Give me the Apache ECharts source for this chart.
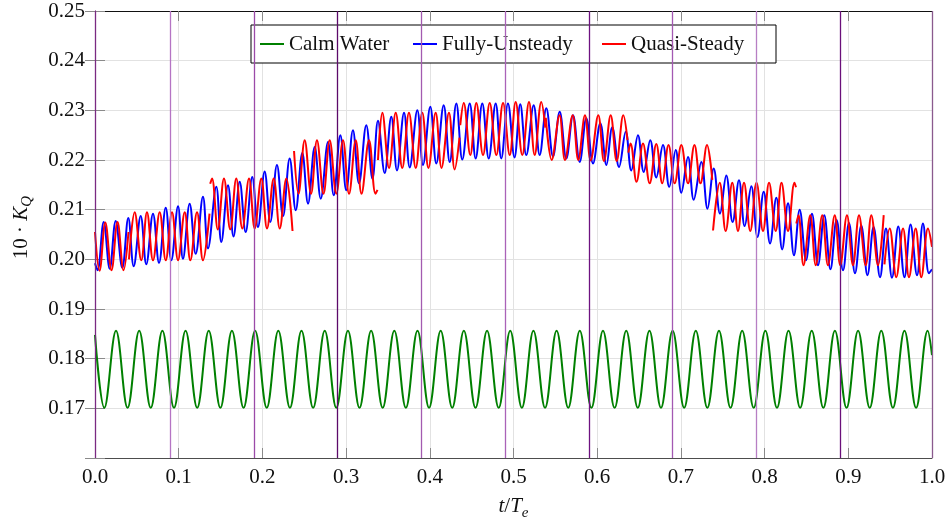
<!DOCTYPE html>
<html>
<head>
<meta charset="utf-8">
<script src="https://cdn.jsdelivr.net/npm/echarts@6/dist/echarts.min.js"></script>
<style>html,body{margin:0;padding:0;background:#fff;}#chart{width:950px;height:520px;}</style>
</head>
<body>
<div id="chart"></div>
<script>
// ---- data (t/Te, 10*KQ) : extremes ----
const xTicks = [0, 0.1, 0.2, 0.3, 0.4, 0.5, 0.6, 0.7, 0.8, 0.9, 1.0];
const yTicks = [0.17, 0.18, 0.19, 0.20, 0.21, 0.22, 0.23, 0.24, 0.25];

const calmT = [0, 0.0112, 0.0251, 0.0389, 0.0528, 0.0666, 0.0805, 0.0944, 0.1082, 0.1221, 0.1359,
  0.1498, 0.1636, 0.1775, 0.1913, 0.2052, 0.2190, 0.2329, 0.2467, 0.2606, 0.2745,
  0.2883, 0.3022, 0.3160, 0.3299, 0.3437, 0.3576, 0.3714, 0.3853, 0.3991, 0.4130,
  0.4268, 0.4407, 0.4546, 0.4684, 0.4823, 0.4961, 0.5100, 0.5238, 0.5377, 0.5515,
  0.5654, 0.5792, 0.5931, 0.6069, 0.6208, 0.6347, 0.6485, 0.6624, 0.6762, 0.6901,
  0.7039, 0.7178, 0.7316, 0.7455, 0.7593, 0.7732, 0.7870, 0.8009, 0.8148, 0.8286,
  0.8425, 0.8563, 0.8702, 0.8840, 0.8979, 0.9117, 0.9256, 0.9394, 0.9533, 0.9671,
  0.9810, 0.9948, 1.0];
const calmK = [0.1848, 0.1701, 0.1856, 0.1701, 0.1856, 0.1701, 0.1856, 0.1701, 0.1856, 0.1701, 0.1856,
  0.1701, 0.1856, 0.1701, 0.1856, 0.1701, 0.1856, 0.1701, 0.1856, 0.1701, 0.1856,
  0.1701, 0.1856, 0.1701, 0.1856, 0.1701, 0.1856, 0.1701, 0.1856, 0.1701, 0.1856,
  0.1701, 0.1856, 0.1701, 0.1856, 0.1701, 0.1856, 0.1701, 0.1856, 0.1701, 0.1856,
  0.1701, 0.1856, 0.1701, 0.1856, 0.1701, 0.1856, 0.1701, 0.1856, 0.1701, 0.1856,
  0.1701, 0.1856, 0.1701, 0.1856, 0.1701, 0.1856, 0.1701, 0.1856, 0.1701, 0.1856,
  0.1701, 0.1856, 0.1701, 0.1856, 0.1701, 0.1856, 0.1701, 0.1856, 0.1701, 0.1856,
  0.1701, 0.1856, 0.1807];

const unsteadyT = [0, 0.0030, 0.0104, 0.0176, 0.0247, 0.0326, 0.0398, 0.0462, 0.0546, 0.0613,
  0.0693, 0.0765, 0.0845, 0.0912, 0.0992, 0.1051, 0.1131, 0.1203, 0.1290, 0.1350,
  0.1449, 0.1509, 0.1589, 0.1655, 0.1729, 0.1800, 0.1879, 0.1947, 0.2027, 0.2094,
  0.2174, 0.2246, 0.2326, 0.2398, 0.2477, 0.2545, 0.2625, 0.2697, 0.2784, 0.2852,
  0.2931, 0.3002, 0.3082, 0.3154, 0.3241, 0.3315, 0.3381, 0.3461, 0.3540, 0.3608,
  0.3692, 0.3760, 0.3851, 0.3919, 0.4006, 0.4078, 0.4166, 0.4238, 0.4317, 0.4388,
  0.4477, 0.4548, 0.4627, 0.4704, 0.4787, 0.4854, 0.4934, 0.5012, 0.5081, 0.5153,
  0.5241, 0.5313, 0.5392, 0.5472, 0.5552, 0.5631, 0.5711, 0.5791, 0.5870, 0.5950,
  0.6037, 0.6110, 0.6180, 0.6261, 0.6341, 0.6407, 0.6487, 0.6556, 0.6634, 0.6706,
  0.6786, 0.6861, 0.6938, 0.7005, 0.7085, 0.7153, 0.7244, 0.7318, 0.7392, 0.7467,
  0.7542, 0.7618, 0.7694, 0.7762, 0.7841, 0.7915, 0.7989, 0.8065, 0.8140, 0.8210,
  0.8280, 0.8351, 0.8419, 0.8495, 0.8566, 0.8638, 0.8713, 0.8787, 0.8860, 0.8937,
  0.9008, 0.9080, 0.9155, 0.9229, 0.9302, 0.9379, 0.9450, 0.9522, 0.9597, 0.9671,
  0.9744, 0.9821, 0.9892, 0.9964, 1.0];
const unsteadyK = [0.1992, 0.1978, 0.2075, 0.1981, 0.2077, 0.1983, 0.2083, 0.1986, 0.2087, 0.1990,
  0.2092, 0.1993, 0.2104, 0.1998, 0.2107, 0.2001, 0.2112, 0.2011, 0.2126, 0.2022,
  0.2146, 0.2035, 0.2149, 0.2046, 0.2156, 0.2055, 0.2166, 0.2065, 0.2177, 0.2075,
  0.2190, 0.2087, 0.2203, 0.2099, 0.2214, 0.2112, 0.2226, 0.2122, 0.2236, 0.2129,
  0.2250, 0.2139, 0.2260, 0.2153, 0.2270, 0.2162, 0.2279, 0.2174, 0.2287, 0.2179,
  0.2295, 0.2185, 0.2300, 0.2190, 0.2307, 0.2193, 0.2310, 0.2196, 0.2314, 0.2201,
  0.2314, 0.2203, 0.2314, 0.2203, 0.2314, 0.2203, 0.2314, 0.2205, 0.2312, 0.2210,
  0.2310, 0.2210, 0.2304, 0.2207, 0.2297, 0.2203, 0.2290, 0.2196, 0.2284, 0.2193,
  0.2274, 0.2190, 0.2266, 0.2186, 0.2257, 0.2179, 0.2250, 0.2176, 0.2240, 0.2165,
  0.2230, 0.2146, 0.2220, 0.2134, 0.2206, 0.2120, 0.2196, 0.2102, 0.2183, 0.2092,
  0.2169, 0.2075, 0.2159, 0.2067, 0.2147, 0.2045, 0.2136, 0.2032, 0.2124, 0.2020,
  0.2113, 0.2008, 0.2100, 0.1998, 0.2092, 0.1988, 0.2089, 0.1980, 0.2079, 0.1978,
  0.2073, 0.1972, 0.2068, 0.1968, 0.2065, 0.1964, 0.2062, 0.1963, 0.2066, 0.1964,
  0.2070, 0.1968, 0.2072, 0.1972, 0.1980];

// quasi-steady: segments separated by null
const quasiT = [
  0, 0.0054, 0.0123, 0.0197, 0.0269, 0.0341, 0.0400, null,
  0.0406, 0.0474, 0.0553, 0.0621, 0.0693, 0.0773, 0.0845, 0.0920, 0.0992, 0.1072, 0.1139, 0.1219, 0.1290, 0.1368, null,
  0.1376, 0.1398, 0.1467, 0.1541, 0.1616, 0.1688, 0.1760, 0.1840, 0.1908, 0.1987, 0.2055, 0.2135, 0.2207, 0.2286, 0.2360, null,
  0.2378, 0.2431, 0.2505, 0.2581, 0.2652, 0.2730, 0.2804, 0.2883, 0.2963, 0.3035, 0.3115, 0.3184, 0.3274, 0.3351, 0.3375, null,
  0.3381, 0.3433, 0.3513, 0.3593, 0.3671, 0.3751, 0.3832, 0.3910, 0.3984, 0.4070, 0.4140, 0.4229, 0.4297, 0.4355, null,
  0.4364, 0.4405, 0.4484, 0.4556, 0.4636, 0.4716, 0.4795, 0.4875, 0.4955, 0.5026, 0.5105, 0.5185, 0.5253, 0.5332, 0.5380, null,
  0.5386, 0.5456, 0.5550, 0.5615, 0.5707, 0.5774, 0.5854, 0.5922, 0.6013, 0.6081, 0.6161, 0.6233, 0.6312, 0.6362, null,
  0.6372, 0.6398, 0.6470, 0.6547, 0.6627, 0.6706, 0.6778, 0.6852, 0.6926, 0.7005, 0.7085, 0.7162, 0.7234, 0.7312, 0.7375, null,
  0.7384, 0.7464, 0.7535, 0.7614, 0.7682, 0.7754, 0.7829, 0.7903, 0.7981, 0.8053, 0.8133, 0.8202, 0.8280, 0.8357, 0.8375, null,
  0.8379, 0.8405, 0.8465, 0.8546, 0.8611, 0.8689, 0.8757, 0.8838, 0.8904, 0.8984, 0.9056, 0.9128, 0.9208, 0.9275, 0.9355, 0.9423, null,
  0.9432, 0.9495, 0.9573, 0.9654, 0.9725, 0.9805, 0.9872, 0.9952, 1.0];
const quasiK = [
  0.2055, 0.1977, 0.2074, 0.1978, 0.2075, 0.1978, 0.2055, null,
  0.2000, 0.2095, 0.1998, 0.2095, 0.1998, 0.2095, 0.1998, 0.2095, 0.1998, 0.2095, 0.1998, 0.2095, 0.1998, 0.2092, null,
  0.2152, 0.2163, 0.2060, 0.2163, 0.2060, 0.2163, 0.2062, 0.2163, 0.2062, 0.2163, 0.2062, 0.2163, 0.2062, 0.2163, 0.2057, null,
  0.2218, 0.2132, 0.2240, 0.2132, 0.2240, 0.2132, 0.2240, 0.2132, 0.2240, 0.2132, 0.2240, 0.2132, 0.2240, 0.2132, 0.2140, null,
  0.2200, 0.2295, 0.2184, 0.2295, 0.2184, 0.2295, 0.2184, 0.2295, 0.2184, 0.2295, 0.2184, 0.2295, 0.2181, 0.2245, null,
  0.2270, 0.2315, 0.2210, 0.2315, 0.2210, 0.2315, 0.2210, 0.2315, 0.2210, 0.2317, 0.2210, 0.2317, 0.2210, 0.2317, 0.2265, null,
  0.2285, 0.2200, 0.2290, 0.2200, 0.2290, 0.2200, 0.2290, 0.2199, 0.2290, 0.2198, 0.2290, 0.2198, 0.2290, 0.2240, null,
  0.2215, 0.2233, 0.2156, 0.2233, 0.2153, 0.2232, 0.2153, 0.2230, 0.2153, 0.2230, 0.2153, 0.2230, 0.2153, 0.2230, 0.2160, null,
  0.2058, 0.2154, 0.2057, 0.2154, 0.2057, 0.2154, 0.2057, 0.2154, 0.2057, 0.2154, 0.2057, 0.2154, 0.2057, 0.2154, 0.2145, null,
  0.2072, 0.2089, 0.1988, 0.2089, 0.1988, 0.2089, 0.1988, 0.2089, 0.1988, 0.2089, 0.1988, 0.2089, 0.1988, 0.2089, 0.1988, 0.2089, null,
  0.1990, 0.2062, 0.1964, 0.2062, 0.1964, 0.2062, 0.1964, 0.2062, 0.2025];

// vertical reference lines (t/Te)
const phaseLines = [0, 0.0875, 0.1875, 0.2875, 0.3875, 0.4875, 0.5875, 0.6875, 0.7875, 0.8875, 1.0];
const phaseColors = ['#7a2a82', '#b574c4', '#9b4aa8', '#5c0a6a', '#a35bb0', '#aa62b8',
                     '#6e1280', '#a358b2', '#b77fc4', '#6a0f7a', '#8a5a8e'];

const seriesNames = ['Calm Water', 'Fully-Unsteady', 'Quasi-Steady'];

// ---- build ----
const FONT = 'Liberation Serif';
const zip = (a, b) => a.map((t, i) => [t, b[i]]);
const calmData = zip(calmT, calmK);
const unsteadyData = zip(unsteadyT, unsteadyK);
const quasiSegs = [];
let cur = [];
quasiT.forEach((t, i) => {
  if (t === null) { quasiSegs.push(cur); cur = []; }
  else cur.push([t, quasiK[i]]);
});
quasiSegs.push(cur);

const SM = 0.38;
const series = [
  {
    name: seriesNames[0], type: 'line', data: calmData, smooth: SM, showSymbol: false,
    lineStyle: { color: '#008000', width: 2 }, itemStyle: { color: '#008000' }, z: 2,
    markLine: {
      silent: true, symbol: ['none', 'none'], label: { show: false }, animation: false,
      data: phaseLines.map((v, i) => ({ xAxis: v, lineStyle: { color: phaseColors[i], width: 1.3, type: 'solid' } }))
    }
  },
  {
    name: seriesNames[1], type: 'line', data: unsteadyData, smooth: SM, showSymbol: false,
    lineStyle: { color: '#0000ff', width: 2 }, itemStyle: { color: '#0000ff' }, z: 3
  }
].concat(quasiSegs.map(d => ({
  name: seriesNames[2], type: 'line', data: d, smooth: SM, showSymbol: false,
  lineStyle: { color: '#ff0000', width: 2 }, itemStyle: { color: '#ff0000' }, z: 4
})));

const txt = { fontFamily: FONT, fontSize: 21, color: '#111' };
const legendKeys = { 'Calm Water': 'cw', 'Fully-Unsteady': 'fu', 'Quasi-Steady': 'qs' };

const option = {
  animation: false,
  backgroundColor: '#fff',
  grid: { left: 95, right: 18, top: 11, bottom: 62, containLabel: false, outerBoundsMode: 'none' },
  legend: {
    data: seriesNames, left: 251, top: 25, icon: 'rect', itemWidth: 24, itemHeight: 2,
    itemGap: 7, padding: [8, 14, 8, 9], borderColor: '#000', borderWidth: 1, backgroundColor: '#fff',
    formatter: n => '{' + legendKeys[n] + '|' + n + '}',
    textStyle: {
      fontFamily: FONT, fontSize: 21, color: '#111', lineHeight: 22,
      rich: {
        cw: { width: 117, fontFamily: FONT, fontSize: 21, color: '#111' },
        fu: { width: 153, fontFamily: FONT, fontSize: 21, color: '#111' },
        qs: { width: 131, fontFamily: FONT, fontSize: 21, color: '#111' }
      }
    }
  },
  xAxis: [
    {
      type: 'value', position: 'bottom', min: xTicks[0], max: xTicks[xTicks.length - 1], interval: 0.1,
      axisLine: { show: true, lineStyle: { color: '#4d4d4d', width: 1 } },
      axisTick: { show: true, inside: true, length: 10, lineStyle: { color: '#8a8a8a', width: 1 } },
      axisLabel: Object.assign({ margin: 9, formatter: v => v.toFixed(1), showMaxLabel: true, showMinLabel: true }, txt),
      splitLine: { show: true, lineStyle: { color: '#e2e2e2', width: 1 } },
      name: '{i|t}/{i|T}{s|e}', nameLocation: 'middle', nameGap: 24,
      nameTextStyle: {
        fontFamily: FONT, fontSize: 21, color: '#111', lineHeight: 28,
        rich: {
          i: { fontFamily: FONT, fontSize: 21, fontStyle: 'italic', color: '#111', lineHeight: 28 },
          s: { fontFamily: FONT, fontSize: 15, fontStyle: 'italic', color: '#111', verticalAlign: 'bottom', lineHeight: 15 }
        }
      }
    },
    {
      type: 'value', position: 'top', min: xTicks[0], max: xTicks[xTicks.length - 1], interval: 0.1,
      axisLine: { show: true, lineStyle: { color: '#111', width: 1 } },
      axisTick: { show: true, inside: true, length: 10, lineStyle: { color: '#8a8a8a', width: 1 } },
      axisLabel: { show: false }, splitLine: { show: false }
    }
  ],
  yAxis: [
    {
      type: 'value', position: 'left', min: 0.16, max: yTicks[yTicks.length - 1], interval: 0.01,
      axisLine: { show: true, lineStyle: { color: '#7a2a82', width: 1 } },
      axisTick: { show: true, inside: true, length: 10, lineStyle: { color: '#8a8a8a', width: 1 } },
      axisLabel: Object.assign({ margin: 10, formatter: v => (Math.abs(v - 0.16) < 1e-6 ? '' : v.toFixed(2)) }, txt),
      splitLine: { show: true, lineStyle: { color: '#e2e2e2', width: 1 } },
      name: '10 · {k|K}{q|Q}', nameLocation: 'middle', nameGap: 60, nameRotate: 90,
      nameTextStyle: {
        fontFamily: FONT, fontSize: 21, color: '#111', lineHeight: 28, padding: [0, 0, 0, 14],
        rich: {
          k: { fontFamily: FONT, fontSize: 21, fontStyle: 'italic', color: '#111', lineHeight: 28 },
          q: { fontFamily: FONT, fontSize: 15, fontStyle: 'italic', color: '#111', verticalAlign: 'bottom', lineHeight: 15 }
        }
      }
    },
    {
      type: 'value', position: 'right', min: 0.16, max: yTicks[yTicks.length - 1], interval: 0.01,
      axisLine: { show: true, lineStyle: { color: '#8a5a8e', width: 1 } },
      axisTick: { show: true, inside: true, length: 10, lineStyle: { color: '#8a8a8a', width: 1 } },
      axisLabel: { show: false }, splitLine: { show: false }
    }
  ],
  series: series
};

const chart = echarts.init(document.getElementById('chart'), null, { renderer: 'canvas' });
chart.setOption(option);
</script>
</body>
</html>
